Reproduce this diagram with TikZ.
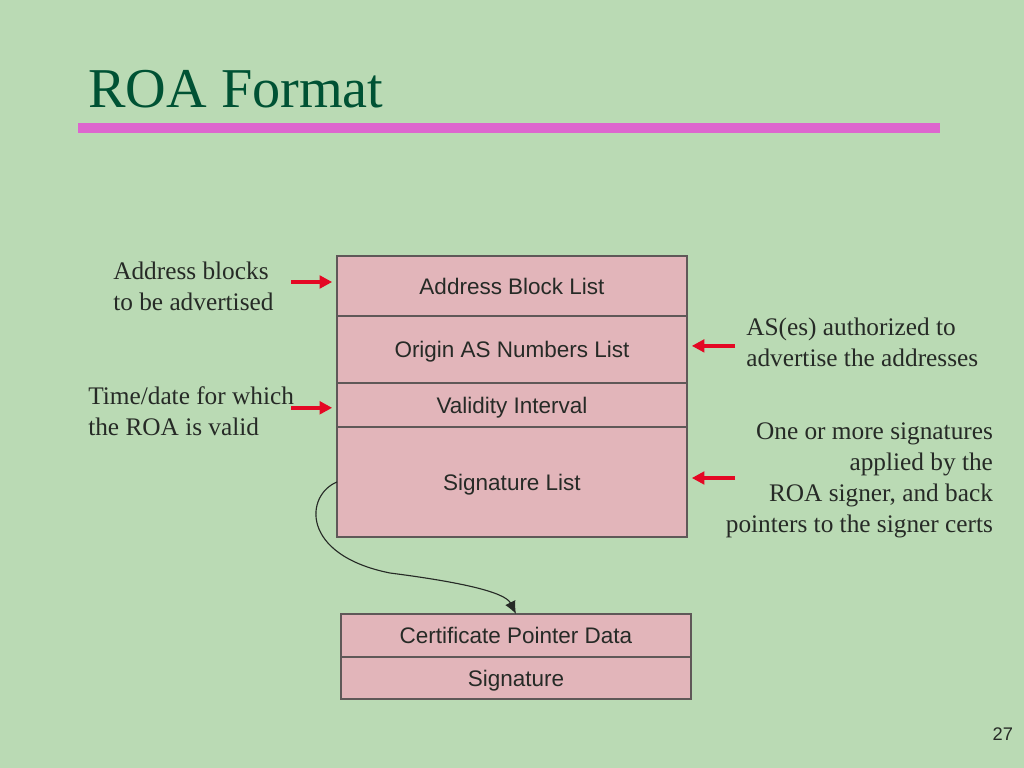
\documentclass[tikz,border=0pt]{standalone}
\usepackage{fontspec}
\setmainfont{Liberation Serif}
\setsansfont{Liberation Sans}
\usepackage{xcolor}
\usetikzlibrary{arrows.meta, positioning}

\definecolor{slidegreen}{RGB}{186,218,180}
\definecolor{titlegreen}{RGB}{0,82,52}
\definecolor{barpink}{RGB}{221,102,206}
\definecolor{fieldpink}{RGB}{226,181,186}
\definecolor{fieldline}{RGB}{95,88,88}
\definecolor{notered}{RGB}{228,8,36}
\definecolor{inkgray}{RGB}{38,42,38}

\tikzset{
    field/.style={draw=fieldline, fill=fieldpink, line width=1pt, outer sep=0pt,
        minimum width=8.75cm, inner sep=0pt, text=inkgray,
        text height=11.5pt, text depth=0pt,
        font=\sffamily\fontsize{16}{19}\selectfont},
    note/.style={inner sep=0pt, text=inkgray, font=\fontsize{18}{22}\selectfont},
    redarrow/.style={draw=notered, line width=2.6pt, -{Triangle[length=9pt, width=9pt]}}
}

\begin{document}
\begin{tikzpicture}
    % --- Slide background ---
    \fill[slidegreen] (0,0) rectangle (25.6,-19.2);
    \useasboundingbox (0,0) rectangle (25.6,-19.2);

    % --- Title and bar ---
    \node[anchor=base west, inner sep=0pt, text=titlegreen,
        font=\fontsize{40}{48}\selectfont] (title) at (2.2,-2.7) {ROA Format};
    \fill[barpink] (1.95,-3.075) rectangle (23.5,-3.325);

    % --- ROA fields ---
    \node[field, minimum height=1.5cm, anchor=north west] (abl) at (8.425,-6.4) {Address Block List};
    \node[field, minimum height=1.675cm, below=0pt of abl] (oasn) {Origin AS Numbers List};
    \node[field, minimum height=1.1cm, below=0pt of oasn] (vi) {Validity Interval};
    \node[field, minimum height=2.75cm, below=0pt of vi] (sl) {Signature List};

    % --- Signature entry ---
    \node[field, minimum height=1.075cm, anchor=north west] (cpd) at (8.525,-15.35) {Certificate Pointer Data};
    \node[field, minimum height=1.05cm, below=0pt of cpd] (sig) {Signature};

    % --- Notes on the left ---
    \node[note, align=left, anchor=west] (note_abl) at (2.825,-7.15) {Address blocks\\to be advertised};
    \node[note, align=left, anchor=west] (note_vi) at (2.2,-10.28) {Time/date for which\\the ROA is valid};

    % --- Notes on the right ---
    \node[note, align=left, anchor=west] (note_oasn) at (18.65,-8.55) {AS(es) authorized to\\advertise the addresses};
    \node[note, align=right, anchor=east] (note_sl) at (24.83,-12.0)
        {One or more signatures\\applied by the\\ROA signer, and back\\pointers to the signer certs};

    % --- Red pointers ---
    \draw[redarrow, shorten >=0.12cm] ([xshift=-1.15cm, yshift=0.1cm]abl.west) -- ([yshift=0.1cm]abl.west);
    \draw[redarrow, shorten >=0.12cm] ([xshift=-1.15cm, yshift=-0.07cm]vi.west) -- ([yshift=-0.07cm]vi.west);
    \draw[redarrow, shorten >=0.12cm] ([xshift=1.2cm, yshift=0.09cm]oasn.east) -- ([yshift=0.09cm]oasn.east);
    \draw[redarrow, shorten >=0.12cm] ([xshift=1.2cm, yshift=0.1cm]sl.east) -- ([yshift=0.1cm]sl.east);

    % --- Back pointer to the signature entry ---
    \draw[inkgray, line width=0.8pt, -{Latex[length=9pt, width=8pt]}]
        (sl.west) .. controls (7.625,-12.375) and (7.5,-13.875) .. (9.75,-14.325)
        .. controls (11.5,-14.55) and (12.625,-14.8) .. (cpd.north);

    % --- Page number ---
    \node[anchor=base east, inner sep=0pt, text=inkgray,
        font=\sffamily\fontsize{13}{15}\selectfont] (page_no) at (25.33,-18.52) {27};
\end{tikzpicture}
\end{document}
